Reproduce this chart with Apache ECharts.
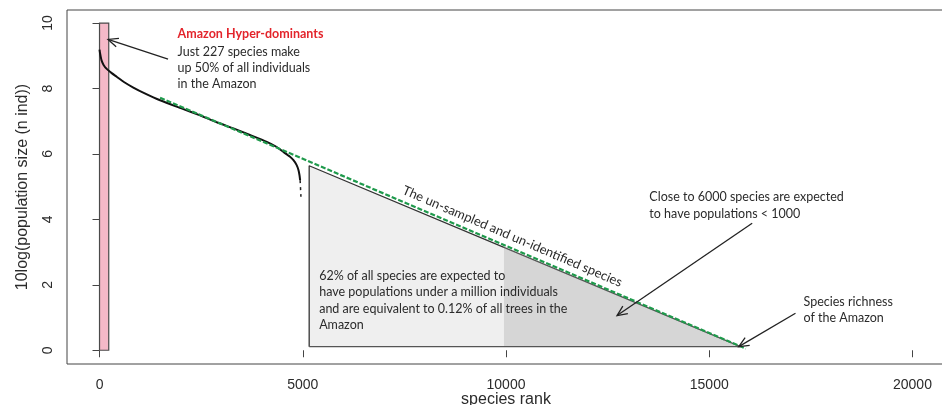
<!DOCTYPE html>
<html>
<head>
<meta charset="utf-8">
<script src="https://cdn.jsdelivr.net/npm/echarts@6/dist/echarts.min.js"></script>
<style>
  html, body { margin: 0; padding: 0; background: #fff; }
  #chart { width: 942px; height: 405px; }
</style>
</head>
<body>
<div id="chart"></div>
<script>
// Axis ticks
const xTicks = [0, 5000, 10000, 15000, 20000];
const yTicks = [0, 2, 4, 6, 8, 10];

// Observed rank–abundance curve (species rank, 10log population size)
const curveRank  = [0, 10, 25, 50, 100, 177, 300, 423, 600, 832, 1100, 1490, 2000, 2474, 2900, 3294, 3700, 4115, 4350, 4525, 4680, 4771, 4850, 4894, 4920, 4935];
const curveValue = [9.19, 9.10, 9.00, 8.86, 8.72, 8.60, 8.47, 8.36, 8.20, 8.03, 7.86, 7.64, 7.40, 7.18, 6.96, 6.78, 6.58, 6.37, 6.22, 6.06, 5.92, 5.81, 5.66, 5.51, 5.35, 5.20];
// Sparse tail of the observed curve
const tailRank  = [4935, 4945, 4955];
const tailValue = [5.20, 4.95, 4.69];

// Extrapolated log-linear trend
const trendRank  = [1490, 15900];
const trendValue = [7.72, 0.05];

// Hyper-dominant species block
const hyperRank  = [0, 227];
const hyperValue = [0, 10];

// Un-sampled species wedge: left edge, split rank, tip, base level
const wedgeRank  = [5158, 9950, 15768];
const wedgeTop   = 5.64;
const wedgeBase  = 0.11;

// Arrows: start and end points
const arrowFromRank  = [1686, 16056, 17122];
const arrowFromValue = [8.90, 3.88, 1.13];
const arrowToRank    = [209, 12732, 15726];
const arrowToValue   = [9.50, 1.06, 0.11];

// Text notes: anchor is top-left of the block
const noteText = [
  'Just 227 species make\nup 50% of all individuals\nin the Amazon',
  '62% of all species are expected to\nhave populations under a million individuals\nand are equivalent to 0.12% of all trees in the\nAmazon',
  'Close to 6000 species are expected\nto have populations < 1000',
  'Species richness\nof the Amazon'
];
const noteRank  = [1920, 5404, 13527, 17319];
const noteValue = [9.38, 2.52, 4.92, 1.72];
const headline = 'Amazon Hyper-dominants';
const headlineRank = 1920, headlineValue = 9.86;
const slopeLabel = 'The un-sampled and un-identified species';
const slopeLabelRank = 10155, slopeLabelValue = 3.48;

const noteFont = 'Lato, "Open Sans", sans-serif';
const axisFont = '"Liberation Sans", Arial, sans-serif';
const ink = '#2b2b2b';

const zip = (a, b) => a.map((v, i) => [v, b[i]]);

// value on the wedge's sloped edge at a given rank
function wedgeEdge(r) {
  const t = (r - wedgeRank[0]) / (wedgeRank[2] - wedgeRank[0]);
  return wedgeTop + (wedgeBase - wedgeTop) * t;
}

function polygonSeries(pts, style, z) {
  return {
    type: 'custom', silent: true, z: z, clip: false,
    data: [pts[0]],
    renderItem: (params, api) => ({
      type: 'polygon',
      shape: { points: pts.map(p => api.coord(p)) },
      style: style
    })
  };
}

const splitVal = wedgeEdge(wedgeRank[1]);

const option = {
  animation: false,
  backgroundColor: '#fff',
  grid: {
    left: 67, top: 10, width: 878, height: 354,
    outerBoundsMode: 'none', containLabel: false,
    show: true, borderColor: '#444', borderWidth: 1
  },
  xAxis: {
    type: 'value', min: -800, max: 20800,
    name: 'species rank', nameLocation: 'middle', nameGap: 28, nameMoveOverlap: false,
    nameTextStyle: { fontFamily: axisFont, fontSize: 16, color: ink },
    axisLine: { show: false },
    splitLine: { show: false },
    axisTick: { show: true, inside: false, length: 7, customValues: xTicks, lineStyle: { color: '#444' } },
    axisLabel: { customValues: xTicks, margin: 14, fontFamily: axisFont, fontSize: 14, color: ink, formatter: v => String(v) }
  },
  yAxis: {
    type: 'value', min: -0.42, max: 10.4,
    name: '10log(population size (n ind))', nameLocation: 'middle', nameGap: 36,
    nameTextStyle: { fontFamily: axisFont, fontSize: 16, color: ink },
    axisLine: { show: false },
    splitLine: { show: false },
    axisTick: { show: true, inside: false, length: 7, customValues: yTicks, lineStyle: { color: '#444' } },
    axisLabel: { customValues: yTicks, rotate: 90, margin: 12, fontFamily: axisFont, fontSize: 14, color: ink }
  },
  series: [
    // wedge fills
    polygonSeries([[wedgeRank[0], wedgeBase], [wedgeRank[0], wedgeTop], [wedgeRank[1], splitVal], [wedgeRank[1], wedgeBase]],
      { fill: '#efefef' }, 1),
    polygonSeries([[wedgeRank[1], wedgeBase], [wedgeRank[1], splitVal], [wedgeRank[2], wedgeBase]],
      { fill: '#d6d6d6' }, 1),
    // wedge outline
    {
      type: 'line', silent: true, symbol: 'none', z: 2,
      data: [[wedgeRank[0], wedgeBase], [wedgeRank[0], wedgeTop], [wedgeRank[1], splitVal]],
      lineStyle: { color: '#333', width: 1.3 }
    },
    {
      type: 'line', silent: true, symbol: 'none', z: 2,
      data: [[wedgeRank[1], splitVal], [wedgeRank[2], wedgeBase], [wedgeRank[0], wedgeBase]],
      lineStyle: { color: '#555', width: 1.3 }
    },
    // hyper-dominant block
    polygonSeries([[hyperRank[0], hyperValue[0]], [hyperRank[0], hyperValue[1]], [hyperRank[1], hyperValue[1]], [hyperRank[1], hyperValue[0]]],
      { fill: '#f5b9c8', stroke: '#4a4a4a', lineWidth: 1.2 }, 3),
    // observed curve
    {
      type: 'line', silent: true, symbol: 'none', z: 4, smooth: 0.15,
      data: zip(curveRank, curveValue),
      lineStyle: { color: '#111', width: 2 }
    },
    {
      type: 'line', silent: true, symbol: 'none', z: 4,
      data: zip(tailRank, tailValue),
      lineStyle: { color: '#222', width: 1.5, type: [3, 4] }
    },
    // extrapolated trend
    {
      type: 'line', silent: true, symbol: 'none', z: 5,
      data: zip(trendRank, trendValue),
      lineStyle: { color: '#1f9a4c', width: 2.2, type: [5, 2] }
    },
    // arrows
    {
      type: 'custom', silent: true, z: 6, clip: false,
      data: arrowFromRank.map((r, i) => [r, arrowFromValue[i], arrowToRank[i], arrowToValue[i]]),
      encode: { x: [0, 2], y: [1, 3] },
      renderItem: (params, api) => {
        const a = api.coord([api.value(0), api.value(1)]);
        const b = api.coord([api.value(2), api.value(3)]);
        const ang = Math.atan2(a[1] - b[1], a[0] - b[0]);
        const L = 11, w = 0.42;
        const h1 = [b[0] + L * Math.cos(ang + w), b[1] + L * Math.sin(ang + w)];
        const h2 = [b[0] + L * Math.cos(ang - w), b[1] + L * Math.sin(ang - w)];
        const st = { stroke: '#222', lineWidth: 1.3, fill: null };
        return {
          type: 'group', children: [
            { type: 'line', shape: { x1: a[0], y1: a[1], x2: b[0], y2: b[1] }, style: st },
            { type: 'polyline', shape: { points: [h1, b, h2] }, style: st }
          ]
        };
      }
    },
    // notes
    {
      type: 'custom', silent: true, z: 7, clip: false,
      data: noteRank.map((r, i) => [r, noteValue[i], i]),
      renderItem: (params, api) => {
        const p = api.coord([api.value(0), api.value(1)]);
        return {
          type: 'text', x: p[0], y: p[1],
          style: {
            text: noteText[api.value(2)], fill: ink, font: '12.5px ' + noteFont,
            lineHeight: 16.3, align: 'left', verticalAlign: 'top'
          }
        };
      }
    },
    // headline and sloped label
    {
      type: 'custom', silent: true, z: 7, clip: false,
      data: [[headlineRank, headlineValue]],
      renderItem: (params, api) => {
        const p = api.coord([headlineRank, headlineValue]);
        const q = api.coord([slopeLabelRank, slopeLabelValue]);
        const t0 = api.coord([trendRank[0], trendValue[0]]);
        const t1 = api.coord([trendRank[1], trendValue[1]]);
        const rot = -Math.atan2(t1[1] - t0[1], t1[0] - t0[0]);
        return {
          type: 'group', children: [
            {
              type: 'text', x: p[0], y: p[1],
              style: { text: headline, fill: '#e3242b', font: 'bold 12.5px ' + noteFont, align: 'left', verticalAlign: 'top' }
            },
            {
              type: 'text', x: q[0], y: q[1], rotation: rot,
              style: { text: slopeLabel, fill: ink, font: '13px ' + noteFont, align: 'center', verticalAlign: 'middle' }
            }
          ]
        };
      }
    }
  ]
};

const chart = echarts.init(document.getElementById('chart'), null, { renderer: 'canvas' });
chart.setOption(option);
</script>
</body>
</html>
